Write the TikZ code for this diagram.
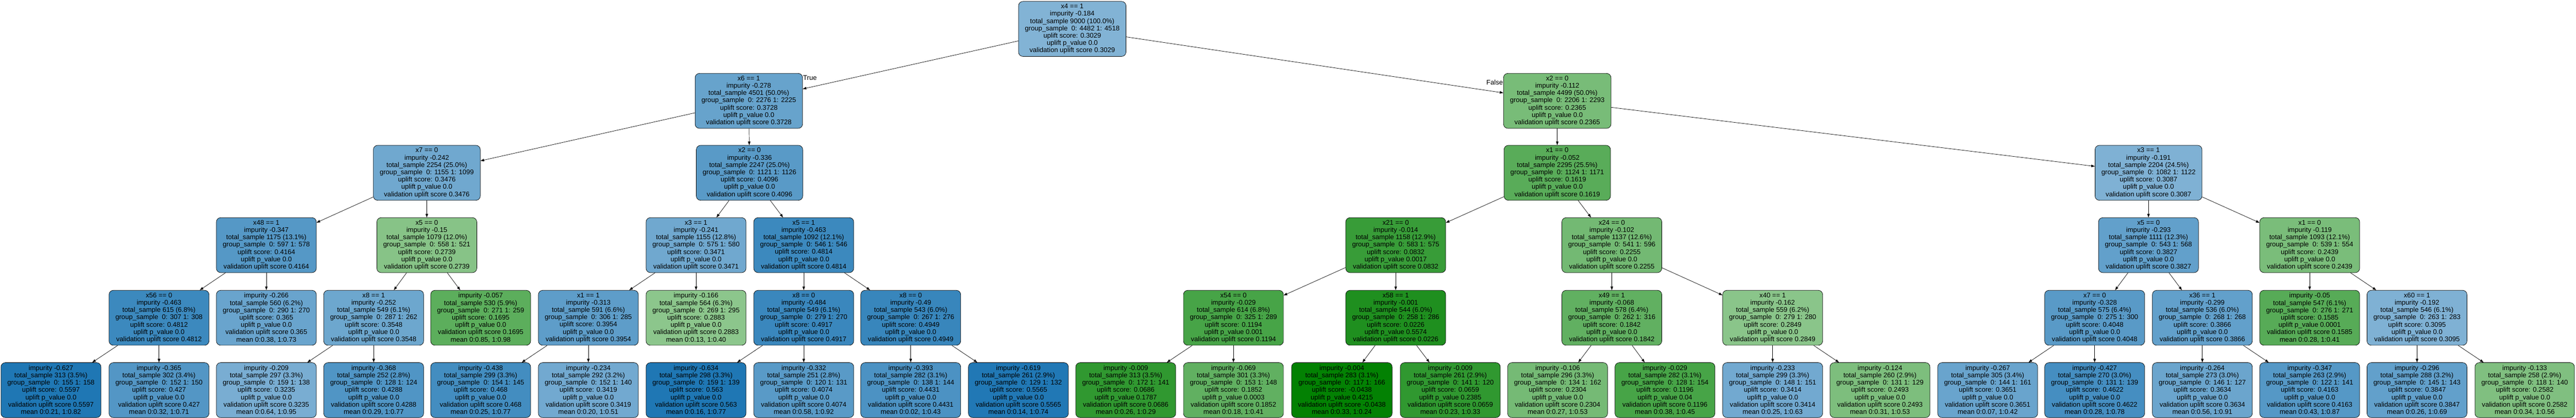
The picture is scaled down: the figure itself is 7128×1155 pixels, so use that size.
\documentclass[tikz,border=0pt]{standalone}
\usepackage{fontspec}
\setmainfont{Liberation Sans}
\usetikzlibrary{arrows.meta,calc}
\definecolor{tb}{HTML}{1F77B4}
\definecolor{tg}{HTML}{008000}
\newcommand\SpTxt[6]{#1\\impurity #2\\total\_sample #3\\group\_sample\ \ #4\\uplift score: #5\\uplift p\_value #6\\validation uplift score #5}
\newcommand\LfTxt[6]{impurity #1\\total\_sample #2\\group\_sample\ \ #3\\uplift score: #4\\uplift p\_value #5\\validation uplift score #4\\mean #6}
\begin{document}
\begin{tikzpicture}[x=0.75pt,y=-0.75pt,
  box/.style={draw=black, line width=0.75pt, rounded corners=9pt, align=center,
    font=\fontsize{14}{15.2}\selectfont, inner xsep=13.3pt, inner ysep=2pt,
    minimum height=114pt},
  edge/.style={draw=black, line width=0.75pt, -{Triangle[length=7.5pt,width=5.2pt]}},
  lbl/.style={font=\fontsize{14}{15.2}\selectfont, inner sep=0pt}]
\useasboundingbox (0,0) rectangle (7128,1155);
% level 0
\node[box,fill=tb!56!white] (n0) at (2967,80) {\SpTxt{x4 == 1}{-0.184}{9000 (100.0\%)}{0: 4482 1: 4518}{0.3029}{0.0}};
% level 1
\node[box,fill=tb!68!white] (n1) at (2072,279) {\SpTxt{x6 == 1}{-0.278}{4501 (50.0\%)}{0: 2276 1: 2225}{0.3728}{0.0}};
\node[box,fill=tg!53!white] (n2) at (4309,279) {\SpTxt{x2 == 0}{-0.112}{4499 (50.0\%)}{0: 2206 1: 2293}{0.2365}{0.0}};
% level 2
\node[box,fill=tb!64!white] (n3) at (1181,478) {\SpTxt{x7 == 0}{-0.242}{2254 (25.0\%)}{0: 1155 1: 1099}{0.3476}{0.0}};
\node[box,fill=tb!74!white] (n4) at (2074,478) {\SpTxt{x2 == 0}{-0.336}{2247 (25.0\%)}{0: 1121 1: 1126}{0.4096}{0.0}};
\node[box,fill=tg!65!white] (n5) at (4309,478) {\SpTxt{x1 == 0}{-0.052}{2295 (25.5\%)}{0: 1124 1: 1171}{0.1619}{0.0}};
\node[box,fill=tb!57!white] (n6) at (5945,478) {\SpTxt{x3 == 1}{-0.191}{2204 (24.5\%)}{0: 1082 1: 1122}{0.3087}{0.0}};
% level 3
\node[box,fill=tb!76!white] (n7) at (737,678) {\SpTxt{x48 == 1}{-0.347}{1175 (13.1\%)}{0: 597 1: 578}{0.4164}{0.0}};
\node[box,fill=tg!47!white] (n8) at (1181,678) {\SpTxt{x5 == 0}{-0.15}{1079 (12.0\%)}{0: 558 1: 521}{0.2739}{0.0}};
\node[box,fill=tb!64!white] (n9) at (1926,678) {\SpTxt{x3 == 1}{-0.241}{1155 (12.8\%)}{0: 575 1: 580}{0.3471}{0.0}};
\node[box,fill=tb!87!white] (n10) at (2224,678) {\SpTxt{x5 == 1}{-0.463}{1092 (12.1\%)}{0: 546 1: 546}{0.4814}{0.0}};
\node[box,fill=tg!78!white] (n11) at (3862,678) {\SpTxt{x21 == 0}{-0.014}{1158 (12.9\%)}{0: 583 1: 575}{0.0832}{0.0017}};
\node[box,fill=tg!55!white] (n12) at (4460,678) {\SpTxt{x24 == 0}{-0.102}{1137 (12.6\%)}{0: 541 1: 596}{0.2255}{0.0}};
\node[box,fill=tb!70!white] (n13) at (5945,678) {\SpTxt{x5 == 0}{-0.293}{1111 (12.3\%)}{0: 543 1: 568}{0.3827}{0.0}};
\node[box,fill=tg!52!white] (n14) at (6391,678) {\SpTxt{x1 == 0}{-0.119}{1093 (12.1\%)}{0: 539 1: 554}{0.2439}{0.0}};
% level 4
\node[box,fill=tb!87!white] (n15) at (440,879) {\SpTxt{x56 == 0}{-0.463}{615 (6.8\%)}{0: 307 1: 308}{0.4812}{0.0}};
\node[box,fill=tb!67!white] (n16) at (737,879) {\LfTxt{-0.266}{560 (6.2\%)}{0: 290 1: 270}{0.365}{0.0}{0:0.38, 1:0.73}};
\node[box,fill=tb!65!white] (n17) at (1034,879) {\SpTxt{x8 == 1}{-0.252}{549 (6.1\%)}{0: 287 1: 262}{0.3548}{0.0}};
\node[box,fill=tg!64!white] (n18) at (1330,879) {\LfTxt{-0.057}{530 (5.9\%)}{0: 271 1: 259}{0.1695}{0.0}{0:0.85, 1:0.98}};
\node[box,fill=tb!72!white] (n19) at (1628,879) {\SpTxt{x1 == 1}{-0.313}{591 (6.6\%)}{0: 306 1: 285}{0.3954}{0.0}};
\node[box,fill=tg!45!white] (n20) at (1926,879) {\LfTxt{-0.166}{564 (6.3\%)}{0: 269 1: 295}{0.2883}{0.0}{0:0.13, 1:0.40}};
\node[box,fill=tb!88!white] (n21) at (2224,879) {\SpTxt{x8 == 0}{-0.484}{549 (6.1\%)}{0: 279 1: 270}{0.4917}{0.0}};
\node[box,fill=tb!89!white] (n22) at (2520,879) {\SpTxt{x8 == 0}{-0.49}{543 (6.0\%)}{0: 267 1: 276}{0.4949}{0.0}};
\node[box,fill=tg!72!white] (n23) at (3413,879) {\SpTxt{x54 == 0}{-0.029}{614 (6.8\%)}{0: 325 1: 289}{0.1194}{0.001}};
\node[box,fill=tg!88!white] (n24) at (3862,879) {\SpTxt{x58 == 1}{-0.001}{544 (6.0\%)}{0: 258 1: 286}{0.0226}{0.5574}};
\node[box,fill=tg!62!white] (n25) at (4460,879) {\SpTxt{x49 == 1}{-0.068}{578 (6.4\%)}{0: 262 1: 316}{0.1842}{0.0}};
\node[box,fill=tg!46!white] (n26) at (4905,879) {\SpTxt{x40 == 1}{-0.162}{559 (6.2\%)}{0: 279 1: 280}{0.2849}{0.0}};
\node[box,fill=tb!74!white] (n27) at (5796,879) {\SpTxt{x7 == 0}{-0.328}{575 (6.4\%)}{0: 275 1: 300}{0.4048}{0.0}};
\node[box,fill=tb!70!white] (n28) at (6094,879) {\SpTxt{x36 == 1}{-0.299}{536 (6.0\%)}{0: 268 1: 268}{0.3866}{0.0}};
\node[box,fill=tg!66!white] (n29) at (6391,879) {\LfTxt{-0.05}{547 (6.1\%)}{0: 276 1: 271}{0.1585}{0.0001}{0:0.28, 1:0.41}};
\node[box,fill=tb!57!white] (n30) at (6688,879) {\SpTxt{x60 == 1}{-0.192}{546 (6.1\%)}{0: 263 1: 283}{0.3095}{0.0}};
% level 5
\node[box,fill=tb!100!white] (n31) at (141,1079) {\LfTxt{-0.627}{313 (3.5\%)}{0: 155 1: 158}{0.5597}{0.0}{0:0.21, 1:0.82}};
\node[box,fill=tb!77!white] (n32) at (440,1079) {\LfTxt{-0.365}{302 (3.4\%)}{0: 152 1: 150}{0.427}{0.0}{0:0.32, 1:0.71}};
\node[box,fill=tb!60!white] (n33) at (737,1079) {\LfTxt{-0.209}{297 (3.3\%)}{0: 159 1: 138}{0.3235}{0.0}{0:0.64, 1:0.95}};
\node[box,fill=tb!78!white] (n34) at (1034,1079) {\LfTxt{-0.368}{252 (2.8\%)}{0: 128 1: 124}{0.4288}{0.0}{0:0.29, 1:0.77}};
\node[box,fill=tb!84!white] (n35) at (1330,1079) {\LfTxt{-0.438}{299 (3.3\%)}{0: 154 1: 145}{0.468}{0.0}{0:0.25, 1:0.77}};
\node[box,fill=tb!63!white] (n36) at (1628,1079) {\LfTxt{-0.234}{292 (3.2\%)}{0: 152 1: 140}{0.3419}{0.0}{0:0.20, 1:0.51}};
\node[box,fill=tb!100!white] (n37) at (1926,1079) {\LfTxt{-0.634}{298 (3.3\%)}{0: 159 1: 139}{0.563}{0.0}{0:0.16, 1:0.77}};
\node[box,fill=tb!74!white] (n38) at (2224,1079) {\LfTxt{-0.332}{251 (2.8\%)}{0: 120 1: 131}{0.4074}{0.0}{0:0.58, 1:0.92}};
\node[box,fill=tb!80!white] (n39) at (2520,1079) {\LfTxt{-0.393}{282 (3.1\%)}{0: 138 1: 144}{0.4431}{0.0}{0:0.02, 1:0.43}};
\node[box,fill=tb!99!white] (n40) at (2818,1079) {\LfTxt{-0.619}{261 (2.9\%)}{0: 129 1: 132}{0.5565}{0.0}{0:0.14, 1:0.74}};
\node[box,fill=tg!81!white] (n41) at (3115,1079) {\LfTxt{-0.009}{313 (3.5\%)}{0: 172 1: 141}{0.0686}{0.1787}{0:0.26, 1:0.29}};
\node[box,fill=tg!62!white] (n42) at (3413,1079) {\LfTxt{-0.069}{301 (3.3\%)}{0: 153 1: 148}{0.1852}{0.0003}{0:0.18, 1:0.41}};
\node[box,fill=tg!99!white] (n43) at (3713,1079) {\LfTxt{-0.004}{283 (3.1\%)}{0: 117 1: 166}{-0.0438}{0.4215}{0:0.33, 1:0.24}};
\node[box,fill=tg!81!white] (n44) at (4013,1079) {\LfTxt{-0.009}{261 (2.9\%)}{0: 141 1: 120}{0.0659}{0.2385}{0:0.23, 1:0.33}};
\node[box,fill=tg!54!white] (n45) at (4310,1079) {\LfTxt{-0.106}{296 (3.3\%)}{0: 134 1: 162}{0.2304}{0.0}{0:0.27, 1:0.53}};
\node[box,fill=tg!72!white] (n46) at (4607,1079) {\LfTxt{-0.029}{282 (3.1\%)}{0: 128 1: 154}{0.1196}{0.04}{0:0.38, 1:0.45}};
\node[box,fill=tb!63!white] (n47) at (4905,1079) {\LfTxt{-0.233}{299 (3.3\%)}{0: 148 1: 151}{0.3414}{0.0}{0:0.25, 1:0.63}};
\node[box,fill=tg!51!white] (n48) at (5202,1079) {\LfTxt{-0.124}{260 (2.9\%)}{0: 131 1: 129}{0.2493}{0.0}{0:0.31, 1:0.53}};
\node[box,fill=tb!67!white] (n49) at (5500,1079) {\LfTxt{-0.267}{305 (3.4\%)}{0: 144 1: 161}{0.3651}{0.0}{0:0.07, 1:0.42}};
\node[box,fill=tb!83!white] (n50) at (5796,1079) {\LfTxt{-0.427}{270 (3.0\%)}{0: 131 1: 139}{0.4622}{0.0}{0:0.28, 1:0.78}};
\node[box,fill=tb!66!white] (n51) at (6094,1079) {\LfTxt{-0.264}{273 (3.0\%)}{0: 146 1: 127}{0.3634}{0.0}{0:0.56, 1:0.91}};
\node[box,fill=tb!76!white] (n52) at (6391,1079) {\LfTxt{-0.347}{263 (2.9\%)}{0: 122 1: 141}{0.4163}{0.0}{0:0.43, 1:0.87}};
\node[box,fill=tb!70!white] (n53) at (6688,1079) {\LfTxt{-0.296}{288 (3.2\%)}{0: 145 1: 143}{0.3847}{0.0}{0:0.26, 1:0.69}};
\node[box,fill=tg!50!white] (n54) at (6986,1079) {\LfTxt{-0.133}{258 (2.9\%)}{0: 118 1: 140}{0.2582}{0.0}{0:0.34, 1:0.56}};
% edges
\foreach \p/\c in {n0/n1,n0/n2,n1/n3,n1/n4,n2/n5,n2/n6,
  n3/n7,n3/n8,n4/n9,n4/n10,n5/n11,n5/n12,n6/n13,n6/n14,
  n7/n15,n7/n16,n8/n17,n8/n18,n9/n19,n9/n20,n10/n21,n10/n22,
  n11/n23,n11/n24,n12/n25,n12/n26,n13/n27,n13/n28,n14/n29,n14/n30,
  n15/n31,n15/n32,n17/n33,n17/n34,n19/n35,n19/n36,n21/n37,n21/n38,
  n22/n39,n22/n40,n23/n41,n23/n42,n24/n43,n24/n44,n25/n45,n25/n46,
  n26/n47,n26/n48,n27/n49,n27/n50,n28/n51,n28/n52,n30/n53,n30/n54}
  \draw[edge] (\p) -- (\c);
% edge labels
\node[lbl,anchor=west] (ltrue) at ($(n1.north east)+(1,13)$) {True};
\node[lbl,anchor=east] (lfalse) at ($(n2.north west)+(-1,26)$) {False};
\end{tikzpicture}
\end{document}
